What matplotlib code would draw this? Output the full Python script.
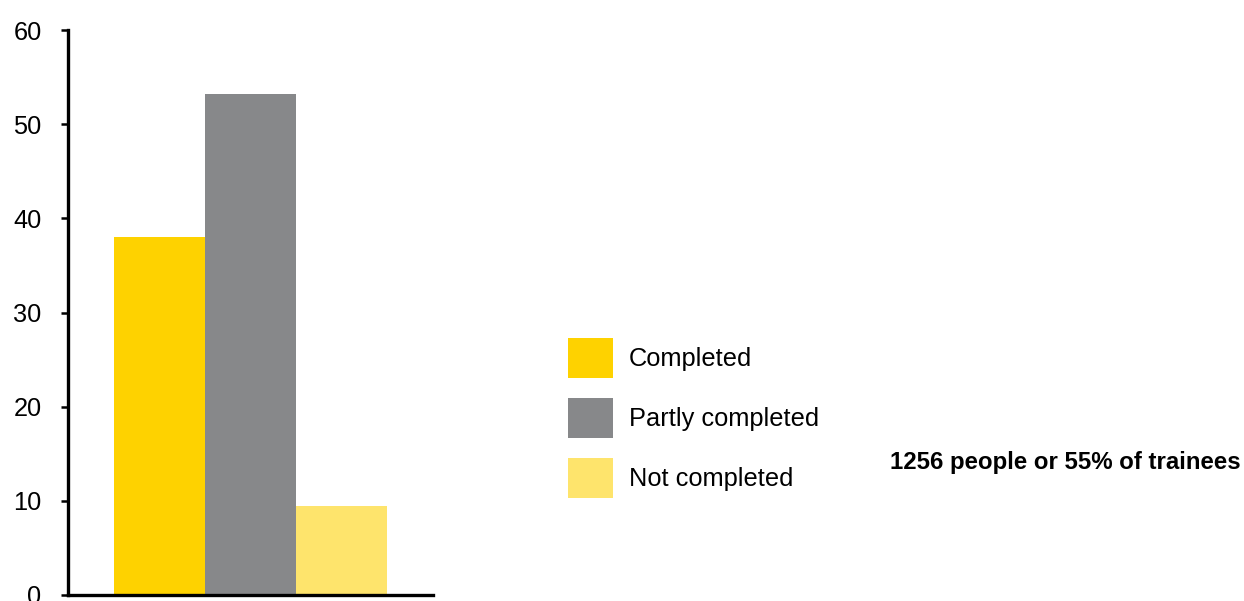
import matplotlib
matplotlib.use("Agg")
import matplotlib.pyplot as plt
from matplotlib.patches import Patch

plt.rcParams['font.family'] = ['Liberation Sans', 'DejaVu Sans']

categories = ["Completed", "Partly completed", "Not completed"]
values = [38.0, 53.2, 9.4]
colors = ["#FED200", "#87888A", "#FEE46C"]
yticks = [0, 10, 20, 30, 40, 50, 60]
note = "1256 people or 55% of trainees"

W, H = 1244, 601
fig = plt.figure(figsize=(W / 100, H / 100), dpi=100)
ax = fig.add_axes([68 / W, (H - 595) / H, (433 - 68) / W, (595 - 30) / H])

x = list(range(len(values)))
ax.bar(x, values, width=1.0, color=colors, linewidth=0)
ax.set_xlim(-1, 3)
ax.set_ylim(0, 60)
ax.set_yticks(yticks)
ax.set_yticklabels([str(t) for t in yticks], fontsize=18.3)
ax.set_xticks([])
for s in ["top", "right"]:
    ax.spines[s].set_visible(False)
for s in ["left", "bottom"]:
    ax.spines[s].set_linewidth(2.4)
    ax.spines[s].set_color("black")
ax.tick_params(axis="y", direction="out", length=5, width=1.8, pad=14, colors="black")

fs = 18.3
hh = 2.045
handles = [Patch(facecolor=c, edgecolor="none", label=l) for c, l in zip(colors, categories)]
fig.legend(handles=handles, loc="upper left", bbox_to_anchor=(568 / W, 1 - 338 / H),
           frameon=False, fontsize=fs, borderpad=0, borderaxespad=0,
           handlelength=32.4 / fs, handleheight=hh, handletextpad=11.5 / fs,
           labelspacing=14.4 / fs)

fig.text(1241 / W, 1 - 463 / H, note, ha="right", va="center", fontsize=17.3, fontweight="bold")

fig.savefig("out.png", dpi=100)
